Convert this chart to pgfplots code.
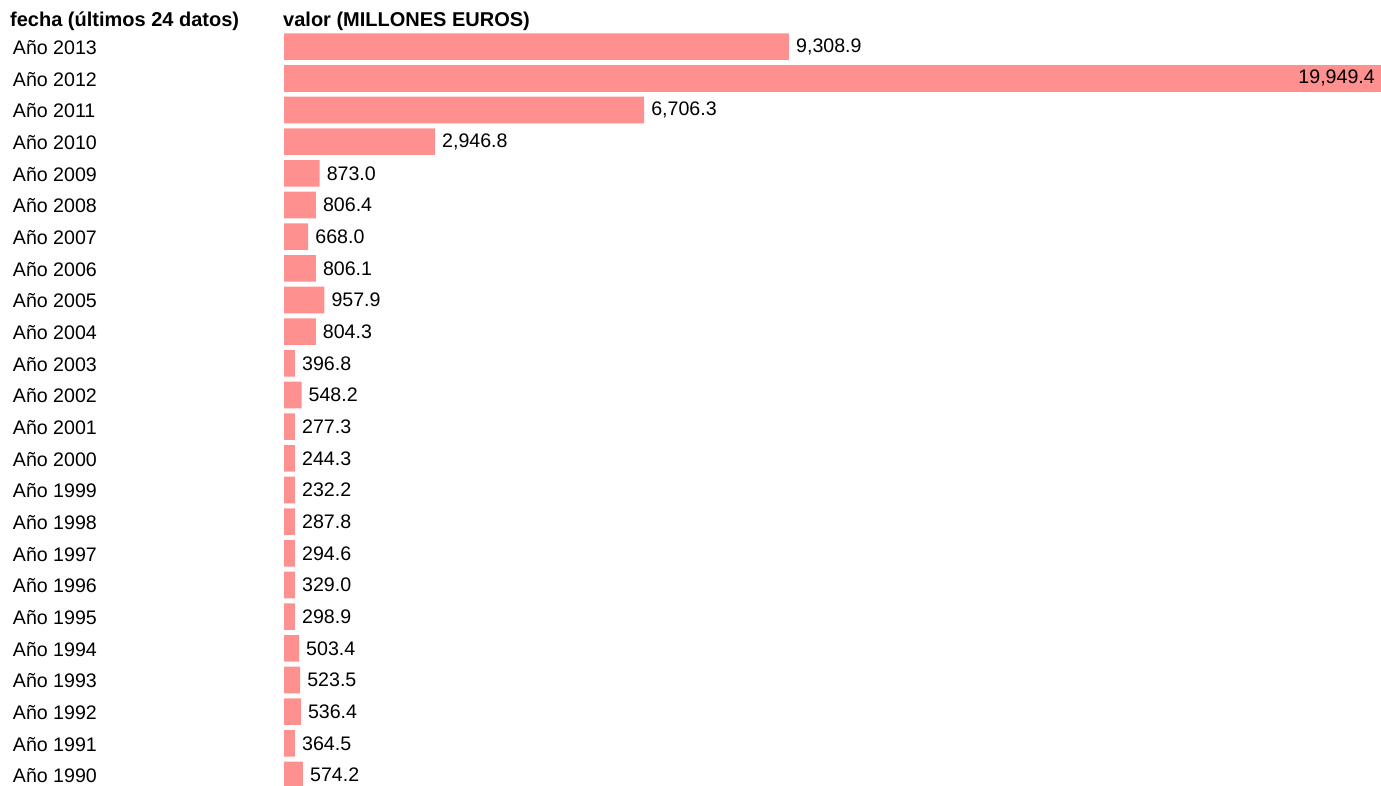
\documentclass[border=0pt]{standalone}
\usepackage{pgfplots}
\pgfplotsset{compat=1.18}
\usepackage{pgfplotstable}
\usepackage{fontspec}
\setmainfont{Liberation Sans}
\definecolor{barc}{RGB}{255,144,144}
\pgfplotstableread{
idx v
0 9308.9
2 6706.3
3 2946.8
4 873.0
5 806.4
6 668.0
7 806.1
8 957.9
9 804.3
10 396.8
11 548.2
12 277.3
13 244.3
14 232.2
15 287.8
16 294.6
17 329.0
18 298.9
19 503.4
20 523.5
21 536.4
22 364.5
23 574.2
}\datatable
\newcommand\lbl{\fontsize{19.6}{22}\selectfont}
\newcommand\hdr{\fontsize{20}{22}\selectfont\bfseries}
\begin{document}
\begin{tikzpicture}
\useasboundingbox (0pt,-785pt) rectangle (1381pt,0pt);
\node[anchor=base west, font=\hdr, inner sep=0pt] at (10pt,-26.5pt) {fecha (últimos 24 datos)};
\node[anchor=base west, font=\hdr, inner sep=0pt] at (283pt,-26.5pt) {valor (MILLONES EUROS)};
\begin{axis}[
  at={(284pt,-30.8pt)}, anchor=north west,
  scale only axis, width=1097pt, height=760pt,
  xmin=233.6, xmax=19949.4, ymin=-0.5, ymax=23.5, y dir=reverse,
  xbar, bar width=26.6pt, bar shift=0pt,
  axis line style={draw=none}, tick style={draw=none},
  xtick=\empty, ytick={0,...,23},
  yticklabels={Año 2013,Año 2012,Año 2011,Año 2010,Año 2009,Año 2008,Año 2007,Año 2006,Año 2005,Año 2004,Año 2003,Año 2002,Año 2001,Año 2000,Año 1999,Año 1998,Año 1997,Año 1996,Año 1995,Año 1994,Año 1993,Año 1992,Año 1991,Año 1990},
  yticklabel style={anchor=west, inner sep=0pt, xshift=-267pt, yshift=-1pt, font=\lbl},
  /pgf/number format/fixed, /pgf/number format/fixed zerofill,
  /pgf/number format/precision=1, /pgf/number format/1000 sep={,},
  /pgf/number format/assume math mode=true,
  nodes near coords,
]
\addplot[fill=barc, draw=none, point meta=explicit,
  nodes near coords style={anchor=west, inner sep=0pt, xshift=7pt, font=\lbl, text=black}]
  table[x expr={max(\thisrow{v},431)}, y=idx, meta=v] {\datatable};
\addplot[fill=barc, draw=none, point meta=explicit,
  nodes near coords style={anchor=east, inner sep=0pt, xshift=-6pt, font=\lbl, text=black}]
  coordinates {(19949.4,1) [19949.4]};
\end{axis}
\end{tikzpicture}
\end{document}
